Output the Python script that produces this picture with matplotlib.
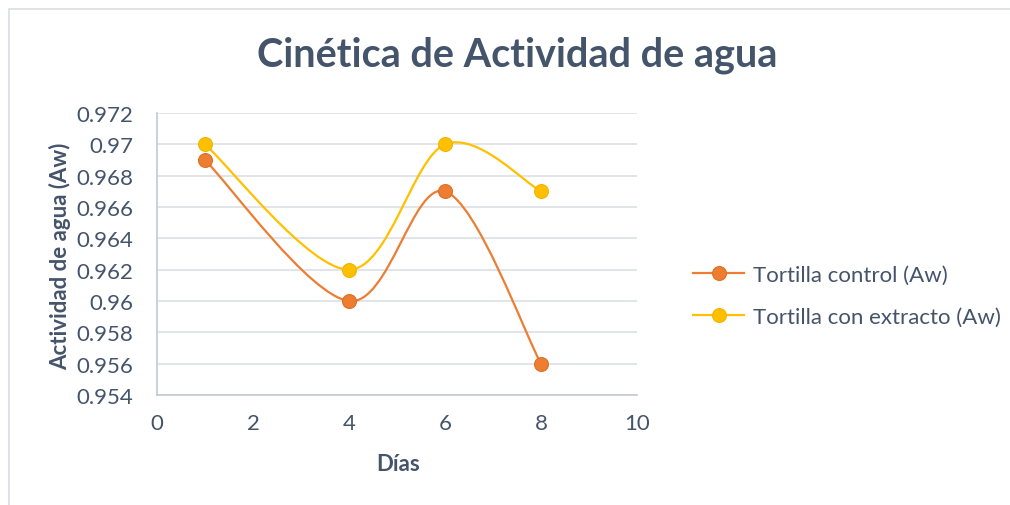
import matplotlib
matplotlib.use("Agg")
import matplotlib.pyplot as plt
import numpy as np
from matplotlib.path import Path
from matplotlib.patches import PathPatch, Rectangle
from matplotlib.lines import Line2D

dias = [1, 4, 6, 8]
control = [0.969, 0.960, 0.967, 0.956]
extracto = [0.970, 0.962, 0.970, 0.967]
labels = ["Tortilla control (Aw)", "Tortilla con extracto (Aw)"]
colors = ["#ED7D31", "#FFC000"]
edges = ["#E06F22", "#F2B400"]

TEXT = "#44546A"
plt.rcParams["font.family"] = ["Lato", "DejaVu Sans"]


def smooth_path(x, y, t=1 / 6):
    # Excel-style smoothed line: cubic Bezier through the points
    p = np.column_stack([x, y]).astype(float)
    n = len(p)
    verts = [p[0]]
    codes = [Path.MOVETO]
    for i in range(n - 1):
        prev = p[i - 1] if i > 0 else p[i]
        nxt = p[i + 2] if i + 2 < n else p[i + 1]
        c1 = p[i] + (p[i + 1] - prev) * t
        c2 = p[i + 1] - (nxt - p[i]) * t
        verts += [c1, c2, p[i + 1]]
        codes += [Path.CURVE4] * 3
    return Path(verts, codes)


fig = plt.figure(figsize=(10.1, 5.06), dpi=100)
fig.add_artist(Rectangle((9 / 1010, -0.1), 2, 1 - 10 / 506 + 0.1, transform=fig.transFigure,
                         fill=False, edgecolor="#D9DDE3", lw=1.2))
ax = fig.add_axes([157 / 1010, 1 - 396 / 506, 480 / 1010, 282 / 506])

for ys, lab, c, ec in zip([control, extracto], labels, colors, edges):
    ax.add_patch(PathPatch(smooth_path(dias, ys), fill=False, edgecolor=c, lw=1.6, zorder=3))
    ax.plot(dias, ys, ls="none", marker="o", ms=10, mfc=c, mec=ec, mew=0.8, zorder=4)

ax.set_xlim(0, 10)
ax.set_ylim(0.954, 0.972)
ax.set_xticks(np.arange(0, 11, 2))
ax.set_yticks(np.arange(0.954, 0.9721, 0.002))
ax.set_yticklabels(["0.954", "0.956", "0.958", "0.96", "0.962", "0.964",
                    "0.966", "0.968", "0.97", "0.972"])
ax.tick_params(length=0, labelsize=16, labelcolor=TEXT)
ax.tick_params(axis="y", pad=17)
ax.tick_params(axis="x", pad=13)
ax.grid(axis="y", color="#DCE0E6", lw=1.2)
ax.set_axisbelow(True)
for s in ("top", "right"):
    ax.spines[s].set_visible(False)
for s in ("left", "bottom"):
    ax.spines[s].set_color("#C3C9D3")
    ax.spines[s].set_linewidth(1.2)

fig.text(517 / 1010, 1 - 55 / 506, "Cinética de Actividad de agua", ha="center", va="center",
         fontsize=28.5, fontweight="bold", color=TEXT)
fig.text(60 / 1010, 1 - 256 / 506, "Actividad de agua (Aw)", rotation=90, ha="center",
         va="center", fontsize=16, fontweight="bold", color=TEXT)
fig.text(398 / 1010, 1 - 465 / 506, "Días", ha="center", va="center",
         fontsize=16, fontweight="bold", color=TEXT)

handles = [Line2D([], [], color=c, lw=1.6, marker="o", ms=10, mfc=c, mec=ec, mew=0.8)
           for c, ec in zip(colors, edges)]
fig.legend(handles, labels, loc="center left", bbox_to_anchor=(693 / 1010, 1 - 297 / 506),
           frameon=False, fontsize=16, labelcolor=TEXT, handlelength=2.3, handletextpad=0.4,
           labelspacing=1.0, borderpad=0, borderaxespad=0)

fig.savefig("out.png", dpi=100)
